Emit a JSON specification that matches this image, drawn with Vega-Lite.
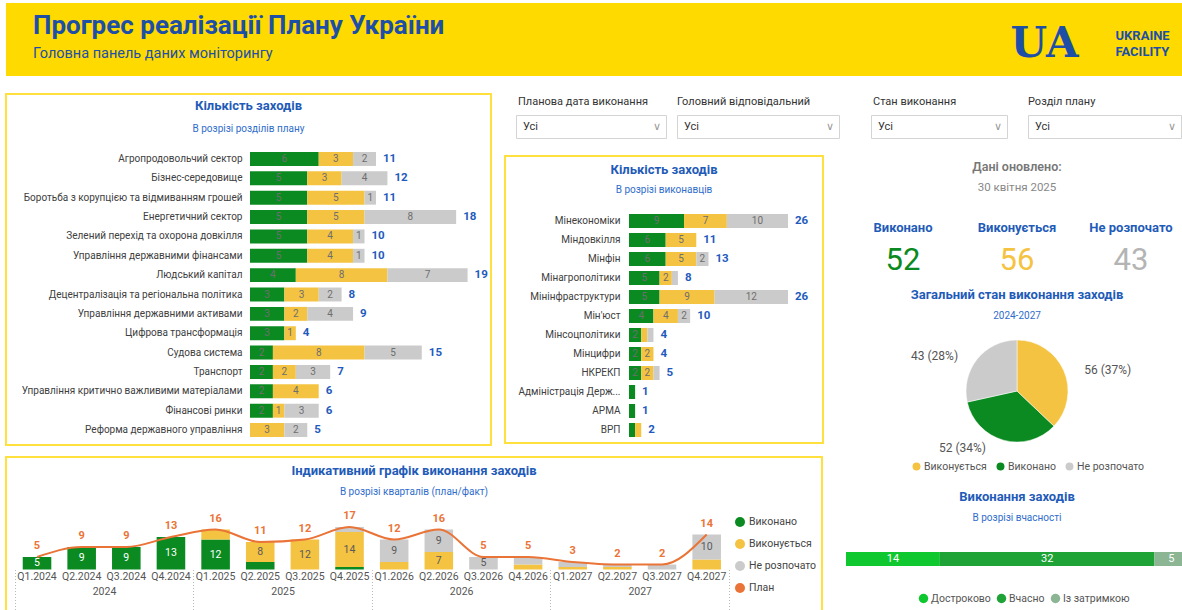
{
  "$schema": "https://vega.github.io/schema/vega-lite/v6.json",
  "padding": {"left": 5, "top": 3, "right": 0, "bottom": 0},
  "background": "white",
  "config": {
    "font": "Roboto",
    "view": {"stroke": null},
    "title": {"font": "Roboto", "color": "#1F5BB8", "fontSize": 13, "fontWeight": "bold", "subtitleFont": "Roboto", "subtitleColor": "#2F6DCC", "subtitleFontSize": 10, "subtitlePadding": 9},
    "axis": {"labelFont": "Roboto"},
    "legend": {"labelFont": "Roboto"},
    "text": {"font": "Roboto"}
  },
  "datasets": {
    "sections": [
      {"cat": "Агропродовольчий сектор", "s": "Виконано", "v": 6},
      {"cat": "Агропродовольчий сектор", "s": "Виконується", "v": 3},
      {"cat": "Агропродовольчий сектор", "s": "Не розпочато", "v": 2},
      {"cat": "Бізнес-середовище", "s": "Виконано", "v": 5},
      {"cat": "Бізнес-середовище", "s": "Виконується", "v": 3},
      {"cat": "Бізнес-середовище", "s": "Не розпочато", "v": 4},
      {"cat": "Боротьба з корупцією та відмиванням грошей", "s": "Виконано", "v": 5},
      {"cat": "Боротьба з корупцією та відмиванням грошей", "s": "Виконується", "v": 5},
      {"cat": "Боротьба з корупцією та відмиванням грошей", "s": "Не розпочато", "v": 1},
      {"cat": "Енергетичний сектор", "s": "Виконано", "v": 5},
      {"cat": "Енергетичний сектор", "s": "Виконується", "v": 5},
      {"cat": "Енергетичний сектор", "s": "Не розпочато", "v": 8},
      {"cat": "Зелений перехід та охорона довкілля", "s": "Виконано", "v": 5},
      {"cat": "Зелений перехід та охорона довкілля", "s": "Виконується", "v": 4},
      {"cat": "Зелений перехід та охорона довкілля", "s": "Не розпочато", "v": 1},
      {"cat": "Управління державними фінансами", "s": "Виконано", "v": 5},
      {"cat": "Управління державними фінансами", "s": "Виконується", "v": 4},
      {"cat": "Управління державними фінансами", "s": "Не розпочато", "v": 1},
      {"cat": "Людський капітал", "s": "Виконано", "v": 4},
      {"cat": "Людський капітал", "s": "Виконується", "v": 8},
      {"cat": "Людський капітал", "s": "Не розпочато", "v": 7},
      {"cat": "Децентралізація та регіональна політика", "s": "Виконано", "v": 3},
      {"cat": "Децентралізація та регіональна політика", "s": "Виконується", "v": 3},
      {"cat": "Децентралізація та регіональна політика", "s": "Не розпочато", "v": 2},
      {"cat": "Управління державними активами", "s": "Виконано", "v": 3},
      {"cat": "Управління державними активами", "s": "Виконується", "v": 2},
      {"cat": "Управління державними активами", "s": "Не розпочато", "v": 4},
      {"cat": "Цифрова трансформація", "s": "Виконано", "v": 3},
      {"cat": "Цифрова трансформація", "s": "Виконується", "v": 1},
      {"cat": "Судова система", "s": "Виконано", "v": 2},
      {"cat": "Судова система", "s": "Виконується", "v": 8},
      {"cat": "Судова система", "s": "Не розпочато", "v": 5},
      {"cat": "Транспорт", "s": "Виконано", "v": 2},
      {"cat": "Транспорт", "s": "Виконується", "v": 2},
      {"cat": "Транспорт", "s": "Не розпочато", "v": 3},
      {"cat": "Управління критично важливими матеріалами", "s": "Виконано", "v": 2},
      {"cat": "Управління критично важливими матеріалами", "s": "Виконується", "v": 4},
      {"cat": "Фінансові ринки", "s": "Виконано", "v": 2},
      {"cat": "Фінансові ринки", "s": "Виконується", "v": 1},
      {"cat": "Фінансові ринки", "s": "Не розпочато", "v": 3},
      {"cat": "Реформа державного управління", "s": "Виконується", "v": 3},
      {"cat": "Реформа державного управління", "s": "Не розпочато", "v": 2}
    ],
    "owners": [
      {"cat": "Мінекономіки", "s": "Виконано", "v": 9},
      {"cat": "Мінекономіки", "s": "Виконується", "v": 7},
      {"cat": "Мінекономіки", "s": "Не розпочато", "v": 10},
      {"cat": "Міндовкілля", "s": "Виконано", "v": 6},
      {"cat": "Міндовкілля", "s": "Виконується", "v": 5},
      {"cat": "Мінфін", "s": "Виконано", "v": 6},
      {"cat": "Мінфін", "s": "Виконується", "v": 5},
      {"cat": "Мінфін", "s": "Не розпочато", "v": 2},
      {"cat": "Мінагрополітики", "s": "Виконано", "v": 5},
      {"cat": "Мінагрополітики", "s": "Виконується", "v": 2},
      {"cat": "Мінагрополітики", "s": "Не розпочато", "v": 1},
      {"cat": "Мінінфраструктури", "s": "Виконано", "v": 5},
      {"cat": "Мінінфраструктури", "s": "Виконується", "v": 9},
      {"cat": "Мінінфраструктури", "s": "Не розпочато", "v": 12},
      {"cat": "Мін'юст", "s": "Виконано", "v": 4},
      {"cat": "Мін'юст", "s": "Виконується", "v": 4},
      {"cat": "Мін'юст", "s": "Не розпочато", "v": 2},
      {"cat": "Мінсоцполітики", "s": "Виконано", "v": 2},
      {"cat": "Мінсоцполітики", "s": "Виконується", "v": 1},
      {"cat": "Мінсоцполітики", "s": "Не розпочато", "v": 1},
      {"cat": "Мінцифри", "s": "Виконано", "v": 2},
      {"cat": "Мінцифри", "s": "Виконується", "v": 2},
      {"cat": "НКРЕКП", "s": "Виконано", "v": 2},
      {"cat": "НКРЕКП", "s": "Виконується", "v": 2},
      {"cat": "НКРЕКП", "s": "Не розпочато", "v": 1},
      {"cat": "Адміністрація Держ...", "s": "Виконано", "v": 1},
      {"cat": "АРМА", "s": "Виконано", "v": 1},
      {"cat": "ВРП", "s": "Виконано", "v": 1},
      {"cat": "ВРП", "s": "Виконується", "v": 1}
    ],
    "quarters": [
      {"q": "Q1.2024", "s": "Виконано", "v": 5},
      {"q": "Q2.2024", "s": "Виконано", "v": 9},
      {"q": "Q3.2024", "s": "Виконано", "v": 9},
      {"q": "Q4.2024", "s": "Виконано", "v": 13},
      {"q": "Q1.2025", "s": "Виконано", "v": 12},
      {"q": "Q1.2025", "s": "Виконується", "v": 4},
      {"q": "Q2.2025", "s": "Виконано", "v": 3},
      {"q": "Q2.2025", "s": "Виконується", "v": 8},
      {"q": "Q3.2025", "s": "Виконується", "v": 12},
      {"q": "Q4.2025", "s": "Виконано", "v": 1},
      {"q": "Q4.2025", "s": "Виконується", "v": 14},
      {"q": "Q4.2025", "s": "Не розпочато", "v": 2},
      {"q": "Q1.2026", "s": "Виконується", "v": 3},
      {"q": "Q1.2026", "s": "Не розпочато", "v": 9},
      {"q": "Q2.2026", "s": "Виконується", "v": 7},
      {"q": "Q2.2026", "s": "Не розпочато", "v": 9},
      {"q": "Q3.2026", "s": "Не розпочато", "v": 5},
      {"q": "Q4.2026", "s": "Виконується", "v": 2},
      {"q": "Q4.2026", "s": "Не розпочато", "v": 3},
      {"q": "Q1.2027", "s": "Виконується", "v": 1},
      {"q": "Q1.2027", "s": "Не розпочато", "v": 2},
      {"q": "Q2.2027", "s": "Виконується", "v": 1},
      {"q": "Q2.2027", "s": "Не розпочато", "v": 1},
      {"q": "Q3.2027", "s": "Не розпочато", "v": 2},
      {"q": "Q4.2027", "s": "Виконується", "v": 4},
      {"q": "Q4.2027", "s": "Не розпочато", "v": 10}
    ],
    "plan": [
      {"q": "Q1.2024", "year": "2024", "plan": 5},
      {"q": "Q2.2024", "year": "2024", "plan": 9},
      {"q": "Q3.2024", "year": "2024", "plan": 9},
      {"q": "Q4.2024", "year": "2024", "plan": 13},
      {"q": "Q1.2025", "year": "2025", "plan": 16},
      {"q": "Q2.2025", "year": "2025", "plan": 11},
      {"q": "Q3.2025", "year": "2025", "plan": 12},
      {"q": "Q4.2025", "year": "2025", "plan": 17},
      {"q": "Q1.2026", "year": "2026", "plan": 12},
      {"q": "Q2.2026", "year": "2026", "plan": 16},
      {"q": "Q3.2026", "year": "2026", "plan": 5},
      {"q": "Q4.2026", "year": "2026", "plan": 5},
      {"q": "Q1.2027", "year": "2027", "plan": 3},
      {"q": "Q2.2027", "year": "2027", "plan": 2},
      {"q": "Q3.2027", "year": "2027", "plan": 2},
      {"q": "Q4.2027", "year": "2027", "plan": 14}
    ],
    "status": [
      {"s": "Виконано", "v": 52, "lbl": "52 (34%)"},
      {"s": "Виконується", "v": 56, "lbl": "56 (37%)"},
      {"s": "Не розпочато", "v": 43, "lbl": "43 (28%)"}
    ],
    "kpi": [
      {"k": "Виконано", "n": 52},
      {"k": "Виконується", "n": 56},
      {"k": "Не розпочато", "n": 43}
    ],
    "timeliness": [
      {"s": "Достроково", "v": 14},
      {"s": "Вчасно", "v": 32},
      {"s": "Із затримкою", "v": 5}
    ],
    "slicer": [{"t": "Усі"}, {"t": "∨"}]
  },
  "spacing": 17,
  "resolve": {"scale": {"color": "independent"}, "legend": {"color": "independent"}},
  "vconcat": [
    {
      "width": 1177,
      "height": 73,
      "view": {"fill": "#FFDA00", "stroke": null},
      "title": {"text": "Прогрес реалізації Плану України", "subtitle": "Головна панель даних моніторингу", "anchor": "start", "dx": 27, "offset": -57, "fontSize": 26, "color": "#1D4FA6", "subtitleFontSize": 14.5, "subtitleColor": "#1D4FA6", "subtitlePadding": 8},
      "layer": [
        {
          "data": {"values": [{"t": "UA"}]},
          "mark": {"type": "text", "align": "right", "dx": 484, "dy": 4, "font": "DejaVu Serif", "fontSize": 42, "fontWeight": "bold", "color": "#1D4FA6"},
          "encoding": {"text": {"field": "t"}}
        },
        {
          "data": {"values": [{"t": "UKRAINE"}, {"t": "FACILITY"}]},
          "mark": {"type": "text", "align": "left", "dx": 521, "fontSize": 13, "fontWeight": "bold", "color": "#1D4FA6"},
          "encoding": {
            "y": {"field": "t", "type": "nominal", "sort": null, "scale": {"type": "band", "range": [25, 57], "paddingInner": 0, "paddingOuter": 0}, "axis": null},
            "text": {"field": "t"}
          }
        }
      ]
    },
    {
      "hconcat": [
        {
          "vconcat": [
            {
              "hconcat": [
                {
                  "width": 485,
                  "height": 351,
                  "view": {"stroke": "#FFE03C", "strokeWidth": 2, "fill": "white"},
                  "title": {"text": "Кількість заходів", "subtitle": "В розрізі розділів плану", "offset": -40, "subtitlePadding": 11},
                  "data": {"name": "sections"},
                  "encoding": {
                    "y": {"field": "cat", "type": "nominal", "sort": null, "scale": {"range": [55.3, 345.7], "paddingInner": 0.28, "paddingOuter": 0.14}, "axis": {"title": null, "orient": "left", "offset": -244, "domain": false, "ticks": false, "labelPadding": 8, "labelFontSize": 10, "labelColor": "#404040", "labelLimit": 300}}
                  },
                  "layer": [
                    {
                      "transform": [{"stack": "v", "groupby": ["cat"], "sort": [{"field": "s", "order": "ascending"}], "as": ["v0", "v1"]}],
                      "mark": {"type": "bar"},
                      "encoding": {
                        "x": {"field": "v0", "type": "quantitative", "scale": {"domain": [0, 19], "range": [244, 461.6], "nice": false}, "axis": null},
                        "x2": {"field": "v1"},
                        "color": {"field": "s", "type": "nominal", "scale": {"domain": ["Виконано", "Виконується", "Не розпочато"], "range": ["#0B8A22", "#F5C342", "#CBCBCB"]}, "legend": null}
                      }
                    },
                    {
                      "transform": [
                        {"stack": "v", "groupby": ["cat"], "sort": [{"field": "s", "order": "ascending"}], "as": ["v0", "v1"]},
                        {"fold": ["v0", "v1"], "as": ["edge", "pos"]},
                        {"aggregate": [{"op": "mean", "field": "pos", "as": "mid"}], "groupby": ["cat", "s", "v"]}
                      ],
                      "mark": {"type": "text", "fontSize": 10, "color": "#6E6E6E"},
                      "encoding": {
                        "x": {"field": "mid", "type": "quantitative", "axis": null},
                        "text": {"field": "v", "type": "quantitative"}
                      }
                    },
                    {
                      "mark": {"type": "text", "align": "left", "dx": 7, "fontSize": 11.5, "fontWeight": "bold", "color": "#1F5BBD"},
                      "encoding": {
                        "x": {"aggregate": "sum", "field": "v", "type": "quantitative", "axis": null},
                        "text": {"aggregate": "sum", "field": "v", "type": "quantitative"}
                      }
                    }
                  ]
                },
                {
                  "vconcat": [
                    {
                      "vconcat": [
                        {
                          "hconcat": [
                            {"width": 1, "height": 16, "data": {"values": []}, "mark": "point"},
                            {
                              "width": 150, "height": 16,
                              "data": {"values": [{"t": "Планова дата виконання"}]},
                              "mark": {"type": "text", "align": "left", "fontSize": 11, "color": "#333333"},
                              "encoding": {"x": {"field": "t", "type": "nominal", "scale": {"type": "point", "range": [3, 3]}, "axis": null}, "text": {"field": "t"}}
                            },
                            {
                              "width": 162, "height": 16,
                              "data": {"values": [{"t": "Головний відповідальний"}]},
                              "mark": {"type": "text", "align": "left", "fontSize": 11, "color": "#333333"},
                              "encoding": {"x": {"field": "t", "type": "nominal", "scale": {"type": "point", "range": [3, 3]}, "axis": null}, "text": {"field": "t"}}
                            }
                          ],
                          "spacing": 9
                        },
                        {
                          "hconcat": [
                            {"width": 1, "height": 23, "data": {"values": []}, "mark": "point"},
                            {
                              "width": 150, "height": 23,
                              "view": {"stroke": "#D4D4D4", "strokeWidth": 1, "fill": "white"},
                              "data": {"name": "slicer"},
                              "mark": {"type": "text", "align": "left", "fontSize": 11},
                              "encoding": {
                                "x": {"field": "t", "type": "nominal", "sort": null, "scale": {"type": "point", "range": [7, 137], "padding": 0}, "axis": null},
                                "text": {"field": "t"},
                                "color": {"condition": {"test": "datum.t === 'Усі'", "value": "#333333"}, "value": "#999999"}
                              }
                            },
                            {
                              "width": 162, "height": 23,
                              "view": {"stroke": "#D4D4D4", "strokeWidth": 1, "fill": "white"},
                              "data": {"name": "slicer"},
                              "mark": {"type": "text", "align": "left", "fontSize": 11},
                              "encoding": {
                                "x": {"field": "t", "type": "nominal", "sort": null, "scale": {"type": "point", "range": [7, 149], "padding": 0}, "axis": null},
                                "text": {"field": "t"},
                                "color": {"condition": {"test": "datum.t === 'Усі'", "value": "#333333"}, "value": "#999999"}
                              }
                            }
                          ],
                          "spacing": 9
                        }
                      ],
                      "spacing": 4
                    },
                    {
                      "width": 318,
                      "height": 287,
                      "view": {"stroke": "#FFE03C", "strokeWidth": 2, "fill": "white"},
                      "title": {"text": "Кількість заходів", "subtitle": "В розрізі виконавців", "offset": -39, "subtitlePadding": 8},
                      "data": {"name": "owners"},
                      "encoding": {
                        "y": {"field": "cat", "type": "nominal", "sort": null, "scale": {"range": [55.5, 283.5], "paddingInner": 0.26, "paddingOuter": 0.13}, "axis": {"title": null, "orient": "left", "offset": -124, "domain": false, "ticks": false, "labelPadding": 9, "labelFontSize": 10, "labelColor": "#404040", "labelLimit": 200}}
                      },
                      "layer": [
                        {
                          "transform": [{"stack": "v", "groupby": ["cat"], "sort": [{"field": "s", "order": "ascending"}], "as": ["v0", "v1"]}],
                          "mark": {"type": "bar"},
                          "encoding": {
                            "x": {"field": "v0", "type": "quantitative", "scale": {"domain": [0, 26], "range": [124, 283], "nice": false}, "axis": null},
                            "x2": {"field": "v1"},
                            "color": {"field": "s", "type": "nominal", "scale": {"domain": ["Виконано", "Виконується", "Не розпочато"], "range": ["#0B8A22", "#F5C342", "#CBCBCB"]}, "legend": null}
                          }
                        },
                        {
                          "transform": [
                            {"stack": "v", "groupby": ["cat"], "sort": [{"field": "s", "order": "ascending"}], "as": ["v0", "v1"]},
                            {"fold": ["v0", "v1"], "as": ["edge", "pos"]},
                            {"aggregate": [{"op": "mean", "field": "pos", "as": "mid"}], "groupby": ["cat", "s", "v"]},
                            {"filter": "datum.v >= 2"}
                          ],
                          "mark": {"type": "text", "fontSize": 10, "color": "#6E6E6E"},
                          "encoding": {
                            "x": {"field": "mid", "type": "quantitative", "axis": null},
                            "text": {"field": "v", "type": "quantitative"}
                          }
                        },
                        {
                          "mark": {"type": "text", "align": "left", "dx": 7, "fontSize": 11.5, "fontWeight": "bold", "color": "#1F5BBD"},
                          "encoding": {
                            "x": {"aggregate": "sum", "field": "v", "type": "quantitative", "axis": null},
                            "text": {"aggregate": "sum", "field": "v", "type": "quantitative"}
                          }
                        }
                      ]
                    }
                  ],
                  "spacing": 16,
                  "resolve": {"scale": {"color": "independent"}, "legend": {"color": "independent"}}
                }
              ],
              "spacing": 12,
              "resolve": {"scale": {"color": "independent"}, "legend": {"color": "independent"}}
            },
            {
              "width": 816,
              "height": 156,
              "view": {"stroke": "#FFE03C", "strokeWidth": 2, "fill": "white"},
              "title": {"text": "Індикативний графік виконання заходів", "subtitle": "В розрізі кварталів (план/факт)", "offset": -40, "subtitlePadding": 9},
              "resolve": {"scale": {"x": "independent"}, "axis": {"x": "independent"}},
              "layer": [
                {
                  "encoding": {
                    "x": {"field": "q", "type": "nominal", "sort": null, "scale": {"type": "band", "domain": ["Q1.2024", "Q2.2024", "Q3.2024", "Q4.2024", "Q1.2025", "Q2.2025", "Q3.2025", "Q4.2025", "Q1.2026", "Q2.2026", "Q3.2026", "Q4.2026", "Q1.2027", "Q2.2027", "Q3.2027", "Q4.2027"], "range": [8.7, 723], "paddingInner": 0.36, "paddingOuter": 0.18}, "axis": {"orient": "bottom", "offset": -43.5, "title": null, "domain": false, "ticks": false, "grid": false, "labelPadding": 2, "labelFontSize": 10.5, "labelColor": "#555555", "labelAngle": 0, "labelOverlap": false}}
                  },
                  "layer": [
                    {
                      "data": {"name": "quarters"},
                      "transform": [{"stack": "v", "groupby": ["q"], "sort": [{"field": "s", "order": "ascending"}], "as": ["v0", "v1"]}],
                      "mark": {"type": "bar"},
                      "encoding": {
                        "y": {"field": "v0", "type": "quantitative", "scale": {"domain": [0, 20], "range": [112.5, 62.5], "nice": false}, "axis": null},
                        "y2": {"field": "v1"},
                        "color": {"field": "s", "type": "nominal", "scale": {"domain": ["Виконано", "Виконується", "Не розпочато", "План"], "range": ["#0B8A22", "#F5C342", "#CBCBCB", "#EA7437"]}, "legend": {"orient": "none", "legendX": 728, "legendY": 59, "title": null, "direction": "vertical", "symbolType": "circle", "symbolSize": 100, "labelFontSize": 10.5, "labelColor": "#444444", "rowPadding": 10, "labelOffset": 3}}
                      }
                    },
                    {
                      "data": {"name": "quarters"},
                      "transform": [
                        {"stack": "v", "groupby": ["q"], "sort": [{"field": "s", "order": "ascending"}], "as": ["v0", "v1"]},
                        {"fold": ["v0", "v1"], "as": ["edge", "pos"]},
                        {"aggregate": [{"op": "mean", "field": "pos", "as": "mid"}], "groupby": ["q", "s", "v"]},
                        {"filter": "datum.v >= 5"}
                      ],
                      "mark": {"type": "text", "fontSize": 10.5},
                      "encoding": {
                        "y": {"field": "mid", "type": "quantitative"},
                        "text": {"field": "v", "type": "quantitative"},
                        "color": {"condition": {"test": "datum.s === 'Виконано'", "value": "#FFFFFF"}, "value": "#5A5A5A"}
                      }
                    },
                    {
                      "data": {"name": "plan"},
                      "mark": {"type": "line", "interpolate": "monotone", "color": "#EA7437", "strokeWidth": 2},
                      "encoding": {"y": {"field": "plan", "type": "quantitative"}}
                    },
                    {
                      "data": {"name": "plan"},
                      "mark": {"type": "text", "dy": -11, "fontSize": 11, "fontWeight": "bold", "color": "#EA7437"},
                      "encoding": {
                        "y": {"field": "plan", "type": "quantitative"},
                        "text": {"field": "plan", "type": "quantitative"}
                      }
                    }
                  ]
                },
                {
                  "data": {"name": "plan"},
                  "mark": {"type": "text", "text": ""},
                  "encoding": {
                    "x": {"field": "year", "type": "nominal", "sort": null, "scale": {"type": "band", "range": [8.7, 723], "paddingInner": 0, "paddingOuter": 0}, "axis": {"orient": "bottom", "offset": -43.5, "title": null, "domain": false, "grid": false, "ticks": true, "tickBand": "extent", "tickSize": 40, "tickDash": [1, 2], "tickColor": "#BBBBBB", "tickWidth": 1, "labelPadding": -23, "labelFontSize": 10.5, "labelColor": "#555555", "labelAngle": 0}}
                  }
                }
              ]
            }
          ],
          "spacing": 10,
          "resolve": {"scale": {"color": "independent"}, "legend": {"color": "independent"}}
        },
        {
          "vconcat": [
            {
              "vconcat": [
                {
                  "vconcat": [
                    {
                      "hconcat": [
                        {"width": 5, "height": 16, "data": {"values": []}, "mark": "point"},
                        {
                          "width": 136, "height": 16,
                          "data": {"values": [{"t": "Стан виконання"}]},
                          "mark": {"type": "text", "align": "left", "fontSize": 11, "color": "#333333"},
                          "encoding": {"x": {"field": "t", "type": "nominal", "scale": {"type": "point", "range": [3, 3]}, "axis": null}, "text": {"field": "t"}}
                        },
                        {
                          "width": 153, "height": 16,
                          "data": {"values": [{"t": "Розділ плану"}]},
                          "mark": {"type": "text", "align": "left", "fontSize": 11, "color": "#333333"},
                          "encoding": {"x": {"field": "t", "type": "nominal", "scale": {"type": "point", "range": [3, 3]}, "axis": null}, "text": {"field": "t"}}
                        }
                      ],
                      "spacing": 19
                    },
                    {
                      "hconcat": [
                        {"width": 5, "height": 23, "data": {"values": []}, "mark": "point"},
                        {
                          "width": 136, "height": 23,
                          "view": {"stroke": "#D4D4D4", "strokeWidth": 1, "fill": "white"},
                          "data": {"name": "slicer"},
                          "mark": {"type": "text", "align": "left", "fontSize": 11},
                          "encoding": {
                            "x": {"field": "t", "type": "nominal", "sort": null, "scale": {"type": "point", "range": [7, 123], "padding": 0}, "axis": null},
                            "text": {"field": "t"},
                            "color": {"condition": {"test": "datum.t === 'Усі'", "value": "#333333"}, "value": "#999999"}
                          }
                        },
                        {
                          "width": 153, "height": 23,
                          "view": {"stroke": "#D4D4D4", "strokeWidth": 1, "fill": "white"},
                          "data": {"name": "slicer"},
                          "mark": {"type": "text", "align": "left", "fontSize": 11},
                          "encoding": {
                            "x": {"field": "t", "type": "nominal", "sort": null, "scale": {"type": "point", "range": [7, 140], "padding": 0}, "axis": null},
                            "text": {"field": "t"},
                            "color": {"condition": {"test": "datum.t === 'Усі'", "value": "#333333"}, "value": "#999999"}
                          }
                        }
                      ],
                      "spacing": 19
                    }
                  ],
                  "spacing": 4
                },
                {
                  "width": 342,
                  "height": 41,
                  "title": {"text": "Дані оновлено:", "subtitle": "30 квітня 2025", "color": "#777777", "fontSize": 12.5, "fontWeight": 600, "subtitleColor": "#888888", "subtitleFontSize": 11.5, "subtitlePadding": 8, "offset": 28},
                  "data": {"name": "kpi"},
                  "mark": {"type": "text", "fontSize": 31, "baseline": "middle"},
                  "encoding": {
                    "x": {"field": "k", "type": "nominal", "sort": null, "scale": {"type": "band"}, "axis": {"orient": "top", "title": null, "domain": false, "ticks": false, "grid": false, "labelPadding": 6, "labelFontSize": 13, "labelFontWeight": "bold", "labelColor": "#1F5BB8", "labelAngle": 0}},
                    "text": {"field": "n", "type": "quantitative"},
                    "color": {"field": "k", "type": "nominal", "scale": {"domain": ["Виконано", "Виконується", "Не розпочато"], "range": ["#0B8A22", "#F5C342", "#B4B4B4"]}, "legend": null}
                  }
                }
              ],
              "spacing": 22,
              "resolve": {"scale": {"color": "independent"}, "legend": {"color": "independent"}}
            },
            {
              "vconcat": [
                {
                  "width": 342,
                  "height": 124,
                  "title": {"text": "Загальний стан виконання заходів", "subtitle": "2024-2027", "offset": 8, "subtitlePadding": 9},
                  "data": {"name": "status"},
                  "layer": [
                    {
                      "mark": {"type": "arc", "outerRadius": 51, "stroke": "white", "strokeWidth": 0.5},
                      "encoding": {
                        "theta": {"field": "v", "type": "quantitative", "stack": true, "scale": {"domain": [0, 151], "range": [4.4937, 10.7769]}},
                        "order": {"field": "s", "sort": "descending"},
                        "color": {"field": "s", "type": "nominal", "scale": {"domain": ["Виконується", "Виконано", "Не розпочато"], "range": ["#F5C342", "#0B8A22", "#CBCBCB"]}, "legend": {"orient": "none", "legendX": 65, "legendY": 132, "direction": "horizontal", "gridAlign": "none", "title": null, "symbolType": "circle", "symbolSize": 90, "labelFontSize": 10.5, "labelColor": "#555555", "columnPadding": 5, "labelOffset": 2}}
                      }
                    },
                    {
                      "transform": [
                        {"stack": "v", "groupby": [], "sort": [{"field": "s", "order": "descending"}], "as": ["a0", "a1"]},
                        {"fold": ["a0", "a1"], "as": ["edge", "pos"]},
                        {"aggregate": [{"op": "mean", "field": "pos", "as": "mid"}], "groupby": ["s", "lbl"]},
                        {"filter": "datum.s === 'Виконується'"}
                      ],
                      "mark": {"type": "text", "radius": 93, "thetaOffset": 0.182, "fontSize": 12, "color": "#555555"},
                      "encoding": {
                        "theta": {"field": "mid", "type": "quantitative", "stack": null},
                        "text": {"field": "lbl"}
                      }
                    },
                    {
                      "transform": [
                        {"stack": "v", "groupby": [], "sort": [{"field": "s", "order": "descending"}], "as": ["a0", "a1"]},
                        {"fold": ["a0", "a1"], "as": ["edge", "pos"]},
                        {"aggregate": [{"op": "mean", "field": "pos", "as": "mid"}], "groupby": ["s", "lbl"]},
                        {"filter": "datum.s === 'Виконано'"}
                      ],
                      "mark": {"type": "text", "radius": 78.5, "thetaOffset": 0.497, "fontSize": 12, "color": "#555555"},
                      "encoding": {
                        "theta": {"field": "mid", "type": "quantitative", "stack": null},
                        "text": {"field": "lbl"}
                      }
                    },
                    {
                      "transform": [
                        {"stack": "v", "groupby": [], "sort": [{"field": "s", "order": "descending"}], "as": ["a0", "a1"]},
                        {"fold": ["a0", "a1"], "as": ["edge", "pos"]},
                        {"aggregate": [{"op": "mean", "field": "pos", "as": "mid"}], "groupby": ["s", "lbl"]},
                        {"filter": "datum.s === 'Не розпочато'"}
                      ],
                      "mark": {"type": "text", "radius": 89.4, "thetaOffset": -0.279, "fontSize": 12, "color": "#555555"},
                      "encoding": {
                        "theta": {"field": "mid", "type": "quantitative", "stack": null},
                        "text": {"field": "lbl"}
                      }
                    }
                  ]
                },
                {
                  "width": 342,
                  "height": 14,
                  "title": {"text": "Виконання заходів", "subtitle": "В розрізі вчасності", "offset": 29, "subtitlePadding": 9},
                  "data": {"name": "timeliness"},
                  "encoding": {
                    "y": {"datum": "Виконання заходів", "type": "nominal", "scale": {"paddingInner": 0, "paddingOuter": 0}, "axis": null}
                  },
                  "layer": [
                    {
                      "transform": [{"stack": "v", "groupby": [], "sort": [{"field": "s", "order": "descending"}], "as": ["v0", "v1"]}],
                      "mark": {"type": "bar"},
                      "encoding": {
                        "x": {"field": "v0", "type": "quantitative", "scale": {"domain": [0, 51], "nice": false}, "axis": null},
                        "x2": {"field": "v1"},
                        "color": {"field": "s", "type": "nominal", "scale": {"domain": ["Достроково", "Вчасно", "Із затримкою"], "range": ["#0FC830", "#1FA337", "#8CB594"]}, "legend": {"orient": "none", "legendX": 72, "legendY": 41, "direction": "horizontal", "gridAlign": "none", "title": null, "symbolType": "circle", "symbolSize": 90, "labelFontSize": 10.5, "labelColor": "#555555", "columnPadding": 5, "labelOffset": 2}}
                      }
                    },
                    {
                      "transform": [
                        {"stack": "v", "groupby": [], "sort": [{"field": "s", "order": "descending"}], "as": ["v0", "v1"]},
                        {"fold": ["v0", "v1"], "as": ["edge", "pos"]},
                        {"aggregate": [{"op": "mean", "field": "pos", "as": "mid"}], "groupby": ["s", "v"]}
                      ],
                      "mark": {"type": "text", "fontSize": 11, "color": "white"},
                      "encoding": {
                        "x": {"field": "mid", "type": "quantitative"},
                        "text": {"field": "v", "type": "quantitative"}
                      }
                    }
                  ]
                }
              ],
              "spacing": 16,
              "resolve": {"scale": {"color": "independent"}, "legend": {"color": "independent"}}
            }
          ],
          "spacing": 8,
          "resolve": {"scale": {"color": "independent"}, "legend": {"color": "independent"}}
        }
      ],
      "spacing": 6,
      "resolve": {"scale": {"color": "independent"}, "legend": {"color": "independent"}}
    }
  ]
}
